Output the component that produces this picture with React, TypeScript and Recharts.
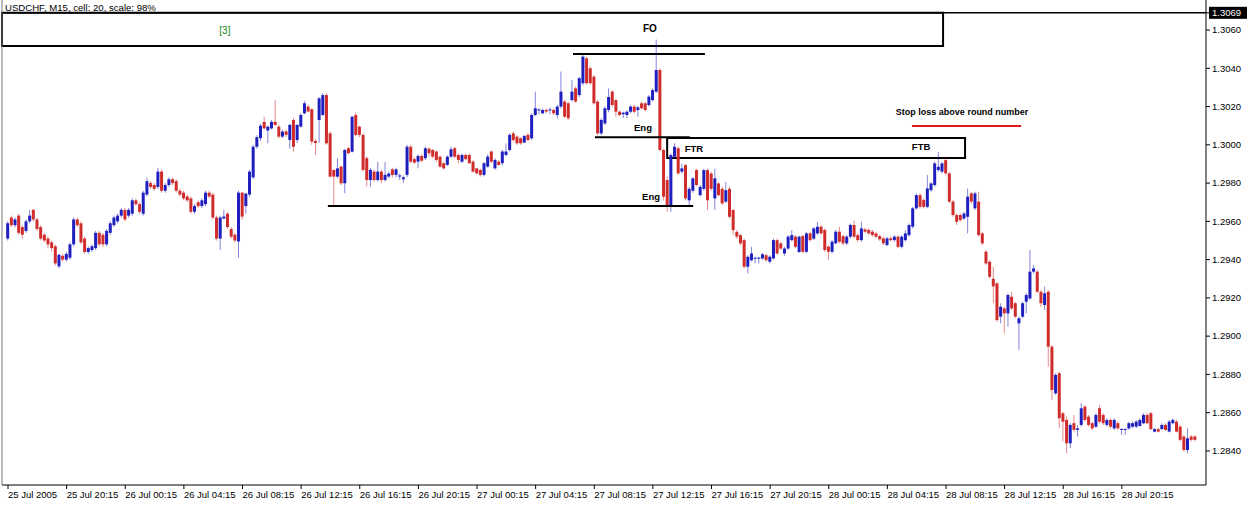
import React from 'react';
import { ComposedChart, Bar, XAxis, YAxis, ReferenceLine, ReferenceArea, ReferenceDot } from 'recharts';

// USDCHF M15 candles: [open, high, low, close]
type Ohlc = [number, number, number, number];

const jul25: Ohlc[] = [
  [1.2951, 1.2960, 1.2950, 1.2959], [1.2962, 1.2963, 1.2957, 1.2958], [1.2958, 1.2962, 1.2957, 1.2961],
  [1.2963, 1.2964, 1.2953, 1.2954], [1.2957, 1.2958, 1.2951, 1.2953], [1.2955, 1.2961, 1.2954, 1.2960],
  [1.2960, 1.2966, 1.2959, 1.2963], [1.2966, 1.29665, 1.2960, 1.2961], [1.2961, 1.2962, 1.2955, 1.2956],
  [1.2957, 1.2958, 1.2950, 1.2951], [1.2953, 1.2954, 1.2949, 1.2950], [1.2951, 1.2952, 1.2946, 1.2948],
  [1.2949, 1.2950, 1.2944, 1.2946], [1.2947, 1.2948, 1.2937, 1.2938], [1.29365, 1.2943, 1.29355, 1.29425],
  [1.2942, 1.2943, 1.2939, 1.2940], [1.2940, 1.2944, 1.2939, 1.2943], [1.2941, 1.2949, 1.2940, 1.2948],
  [1.2948, 1.2962, 1.2947, 1.2961], [1.2961, 1.2962, 1.2957, 1.2958], [1.2959, 1.2960, 1.2948, 1.2949],
  [1.2951, 1.2952, 1.2943, 1.2944], [1.2944, 1.2947, 1.2943, 1.2946], [1.2945, 1.2948, 1.2944, 1.2947],
  [1.2946, 1.2955, 1.2945, 1.2954], [1.2954, 1.2955, 1.2947, 1.2948], [1.2953, 1.2954, 1.29465, 1.2948],
  [1.2948, 1.2956, 1.2947, 1.2955], [1.2954, 1.2960, 1.2953, 1.2959], [1.2958, 1.2963, 1.2957, 1.2962],
  [1.2960, 1.2964, 1.2959, 1.2963],
];

const jul26: Ohlc[] = [
  [1.2963, 1.2967, 1.2962, 1.2966], [1.2966, 1.2967, 1.2960, 1.2961], [1.2963, 1.2967, 1.2962, 1.2966],
  [1.2964, 1.2972, 1.2963, 1.2971], [1.2971, 1.2972, 1.2968, 1.2969], [1.2969, 1.2970, 1.2964, 1.2965],
  [1.2964, 1.2976, 1.2963, 1.2975], [1.2974, 1.2983, 1.2973, 1.2981], [1.2980, 1.2981, 1.2977, 1.2978],
  [1.2979, 1.2980, 1.2976, 1.2977], [1.2978, 1.2988, 1.2977, 1.2986], [1.2986, 1.2987, 1.2975, 1.2976],
  [1.2976, 1.2980, 1.2975, 1.2979], [1.2979, 1.2983, 1.2978, 1.2982], [1.2982, 1.2983, 1.2979, 1.2980],
  [1.2981, 1.2982, 1.2975, 1.2976], [1.2976, 1.2977, 1.2973, 1.2974], [1.2975, 1.2976, 1.2971, 1.2972],
  [1.2973, 1.2974, 1.2970, 1.2971], [1.2972, 1.2973, 1.2964, 1.2965], [1.2965, 1.2969, 1.2964, 1.2968],
  [1.2970, 1.2971, 1.2967, 1.2968], [1.2968, 1.2972, 1.2967, 1.2971], [1.2969, 1.2976, 1.2968, 1.2975],
  [1.2975, 1.2976, 1.2972, 1.2973], [1.2974, 1.2975, 1.2961, 1.2962], [1.2962, 1.2963, 1.2950, 1.2951],
  [1.2951, 1.2963, 1.2945, 1.2962], [1.29615, 1.2966, 1.2961, 1.29625], [1.2964, 1.2965, 1.2956, 1.2957],
  [1.2956, 1.2957, 1.2951, 1.2952], [1.2953, 1.2954, 1.2949, 1.2950], [1.29495, 1.2976, 1.2941, 1.2975],
  [1.2975, 1.29755, 1.2961, 1.29625], [1.2968, 1.2975, 1.2964, 1.29745], [1.2974, 1.2987, 1.2973, 1.2986],
  [1.2983, 1.3000, 1.2982, 1.2999], [1.2999, 1.3005, 1.2998, 1.3004], [1.30035, 1.3011, 1.3002, 1.3010],
  [1.3012, 1.30147, 1.3008, 1.30086], [1.30075, 1.3010, 1.30008, 1.30095], [1.30086, 1.3013, 1.3008, 1.3012],
  [1.3012, 1.30234, 1.3010, 1.30104], [1.30095, 1.30104, 1.30035, 1.30043], [1.30043, 1.3008, 1.30035, 1.30069],
  [1.3007, 1.3008, 1.3004, 1.30052], [1.30025, 1.3011, 1.2998, 1.30104], [1.3013, 1.3014, 1.29964, 1.2999],
  [1.30025, 1.3011, 1.3001, 1.30104], [1.30095, 1.30165, 1.3009, 1.30156], [1.30165, 1.3023, 1.3016, 1.30217],
  [1.3020, 1.3021, 1.3017, 1.30174], [1.30186, 1.3019, 1.3000, 1.30017], [1.3002, 1.3003, 1.29947, 1.3001],
  [1.3013, 1.3025, 1.3001, 1.30243], [1.30156, 1.3027, 1.3015, 1.3026], [1.3026, 1.3027, 1.3000, 1.30008],
  [1.3006, 1.3007, 1.2983, 1.29834], [1.29869, 1.2987, 1.29677, 1.29834], [1.29834, 1.2993, 1.29825, 1.29877],
  [1.29886, 1.2989, 1.2979, 1.29799], [1.29799, 1.2998, 1.29747, 1.29973], [1.29982, 1.2999, 1.2995, 1.29956],
  [1.29964, 1.3015, 1.2996, 1.30147], [1.30156, 1.3017, 1.30045, 1.30052], [1.30095, 1.3010, 1.3004, 1.30052],
  [1.30052, 1.3006, 1.2986, 1.29869], [1.2993, 1.2994, 1.29782, 1.29816], [1.29816, 1.2988, 1.29782, 1.29869],
  [1.2986, 1.2987, 1.29808, 1.29816], [1.29816, 1.29912, 1.29808, 1.2986], [1.2986, 1.2987, 1.2980, 1.29816],
  [1.29816, 1.2991, 1.29808, 1.29843], [1.29834, 1.2986, 1.29825, 1.2985], [1.29872, 1.2988, 1.2983, 1.29843],
  [1.29843, 1.2988, 1.2983, 1.29872], [1.29834, 1.2985, 1.29816, 1.2984], [1.2982, 1.2984, 1.2980, 1.2983],
  [1.29843, 1.3000, 1.2983, 1.2999], [1.2999, 1.3000, 1.29904, 1.29912], [1.29925, 1.29935, 1.2990, 1.29907],
  [1.29912, 1.2995, 1.29877, 1.29942], [1.29942, 1.2995, 1.2991, 1.29917], [1.2993, 1.2999, 1.2992, 1.29982],
  [1.2998, 1.29985, 1.2994, 1.29956], [1.29973, 1.2998, 1.2993, 1.29938], [1.29965, 1.2997, 1.2991, 1.29921],
  [1.29938, 1.29945, 1.2988, 1.29886], [1.29904, 1.2991, 1.2987, 1.29877], [1.29895, 1.29945, 1.2989, 1.29938],
  [1.29938, 1.2999, 1.2993, 1.29977], [1.29982, 1.2999, 1.2993, 1.29938], [1.29947, 1.29955, 1.29904, 1.29921],
  [1.29912, 1.29955, 1.29905, 1.29947], [1.29947, 1.29955, 1.2992, 1.29925], [1.29947, 1.29955, 1.2990, 1.29904],
];

const jul27: Ohlc[] = [
  [1.29912, 1.2992, 1.29855, 1.2986], [1.29877, 1.2988, 1.29845, 1.29851], [1.29869, 1.29875, 1.29834, 1.29843],
  [1.29843, 1.2991, 1.29835, 1.29904], [1.29886, 1.2995, 1.2988, 1.29938], [1.29965, 1.2997, 1.29905, 1.29912],
  [1.29877, 1.2993, 1.2987, 1.29921], [1.29912, 1.2992, 1.2989, 1.29895], [1.29904, 1.29973, 1.29895, 1.29965],
  [1.29947, 1.30008, 1.2994, 1.29965], [1.29973, 1.3006, 1.29965, 1.30052], [1.3006, 1.3007, 1.30017, 1.30025],
  [1.30043, 1.3005, 1.3000, 1.30008], [1.30034, 1.3004, 1.3000, 1.30008], [1.30012, 1.30052, 1.30008, 1.30046],
  [1.30052, 1.3006, 1.3002, 1.30025], [1.30034, 1.30165, 1.30025, 1.30156], [1.30156, 1.30278, 1.3015, 1.30191],
  [1.30182, 1.3019, 1.3016, 1.30185], [1.30165, 1.3019, 1.3016, 1.30182], [1.30182, 1.3019, 1.30165, 1.30174],
  [1.3018, 1.30195, 1.3016, 1.30185], [1.30182, 1.3019, 1.30156, 1.30165], [1.30156, 1.30208, 1.30139, 1.3020],
  [1.3020, 1.30383, 1.3019, 1.30278], [1.30226, 1.30234, 1.3014, 1.30147], [1.30217, 1.30225, 1.3013, 1.30139],
  [1.30234, 1.30339, 1.30226, 1.30278], [1.30295, 1.30304, 1.3022, 1.30226], [1.3026, 1.30356, 1.3025, 1.30348],
  [1.30322, 1.3047, 1.3031, 1.30461], [1.30452, 1.3046, 1.30315, 1.30322], [1.3040, 1.3041, 1.30315, 1.30322],
  [1.30356, 1.30365, 1.3021, 1.30217], [1.30226, 1.30234, 1.3005, 1.3006], [1.3006, 1.3014, 1.3005, 1.3013],
  [1.30112, 1.3020, 1.30104, 1.30191], [1.30182, 1.30295, 1.3017, 1.3025], [1.30278, 1.30286, 1.3020, 1.30208],
  [1.30234, 1.3024, 1.30147, 1.30173], [1.30173, 1.3018, 1.3015, 1.30156], [1.3016, 1.30173, 1.3014, 1.30168],
  [1.30156, 1.3018, 1.3014, 1.30173], [1.30173, 1.30208, 1.30165, 1.3020], [1.3020, 1.30208, 1.30165, 1.30173],
  [1.30182, 1.30204, 1.30147, 1.30196], [1.30217, 1.30225, 1.30185, 1.30191], [1.30217, 1.30225, 1.30175, 1.30182],
  [1.30208, 1.3026, 1.3020, 1.30252], [1.30234, 1.30295, 1.30226, 1.30286], [1.30278, 1.3055, 1.3027, 1.30391],
  [1.30391, 1.3040, 1.29965, 1.29973], [1.29973, 1.2998, 1.2971, 1.29729], [1.29816, 1.29834, 1.2965, 1.29677],
  [1.29677, 1.29955, 1.2965, 1.29947], [1.29938, 1.30008, 1.2993, 1.2999], [1.29982, 1.2999, 1.29843, 1.29851],
  [1.2986, 1.2990, 1.2985, 1.29877], [1.29894, 1.2990, 1.2971, 1.2972], [1.2971, 1.2978, 1.29677, 1.2977],
  [1.2976, 1.2983, 1.2975, 1.29825], [1.29868, 1.29875, 1.29785, 1.2979], [1.29737, 1.2979, 1.2973, 1.2978],
  [1.2977, 1.29875, 1.2976, 1.29868], [1.29868, 1.29875, 1.2966, 1.2971], [1.2985, 1.2986, 1.2976, 1.2977],
  [1.2972, 1.29875, 1.2966, 1.29825], [1.29798, 1.29805, 1.2973, 1.29737], [1.2977, 1.2978, 1.29685, 1.29694],
  [1.29703, 1.29806, 1.29695, 1.29763], [1.2977, 1.2978, 1.29615, 1.29624], [1.29659, 1.29665, 1.2953, 1.29554],
  [1.29545, 1.29554, 1.2951, 1.2952], [1.29528, 1.29535, 1.29475, 1.29485], [1.29502, 1.2951, 1.29355, 1.29363],
  [1.29363, 1.29423, 1.29328, 1.29415], [1.29397, 1.29467, 1.2939, 1.29432], [1.29406, 1.29415, 1.2938, 1.2941],
  [1.29406, 1.29415, 1.2938, 1.2941], [1.29406, 1.29435, 1.2940, 1.29428], [1.29423, 1.2943, 1.2939, 1.29397],
  [1.29389, 1.29423, 1.2938, 1.29415], [1.29406, 1.2951, 1.2940, 1.29502], [1.29502, 1.2951, 1.29425, 1.29432],
  [1.29485, 1.29493, 1.2945, 1.29458], [1.29432, 1.29467, 1.2942, 1.29458], [1.29458, 1.29528, 1.2945, 1.2952],
  [1.29502, 1.29554, 1.29495, 1.29528], [1.2952, 1.29528, 1.2946, 1.29467], [1.2944, 1.29525, 1.29435, 1.2952],
  [1.29523, 1.2953, 1.29435, 1.29441], [1.29441, 1.29545, 1.29435, 1.29537], [1.29537, 1.29545, 1.29495, 1.29502],
  [1.2951, 1.2957, 1.29502, 1.29563], [1.29537, 1.29598, 1.2953, 1.29572], [1.29572, 1.2958, 1.2953, 1.29537],
];

const jul28: Ohlc[] = [
  [1.29555, 1.29563, 1.29441, 1.2945], [1.29468, 1.29475, 1.29398, 1.29441], [1.29441, 1.29502, 1.29432, 1.29494],
  [1.29485, 1.29555, 1.2948, 1.29546], [1.29546, 1.29572, 1.29485, 1.29494], [1.29523, 1.2953, 1.29476, 1.29485],
  [1.29485, 1.29528, 1.29476, 1.2952], [1.2952, 1.29589, 1.2951, 1.29581], [1.29581, 1.29604, 1.29512, 1.2952],
  [1.29528, 1.29537, 1.29494, 1.29502], [1.29502, 1.29598, 1.29494, 1.29563], [1.29558, 1.29565, 1.2954, 1.29546],
  [1.29555, 1.29563, 1.2953, 1.29537], [1.29546, 1.29555, 1.2952, 1.29528], [1.29537, 1.29546, 1.29512, 1.2952],
  [1.29523, 1.2953, 1.29498, 1.29506], [1.29511, 1.2952, 1.29476, 1.29485], [1.29476, 1.2952, 1.2947, 1.29511],
  [1.29511, 1.2952, 1.29494, 1.29502], [1.29502, 1.29528, 1.29494, 1.2952], [1.2952, 1.29528, 1.2946, 1.29467],
  [1.29467, 1.29528, 1.29458, 1.2952], [1.29502, 1.29554, 1.29494, 1.29537], [1.29528, 1.29589, 1.2952, 1.29581],
  [1.29572, 1.29676, 1.29563, 1.29668], [1.29668, 1.29746, 1.2966, 1.29737], [1.29737, 1.29746, 1.29668, 1.29676],
  [1.29712, 1.2972, 1.29668, 1.29676], [1.29676, 1.29842, 1.29668, 1.29772], [1.29763, 1.29806, 1.29755, 1.29798],
  [1.2979, 1.29911, 1.29781, 1.29903], [1.29868, 1.29964, 1.2986, 1.29885], [1.2986, 1.29911, 1.29851, 1.29903],
  [1.2992, 1.2993, 1.29842, 1.29851], [1.29851, 1.2986, 1.29695, 1.29703], [1.29703, 1.29712, 1.29624, 1.29633],
  [1.29633, 1.29641, 1.29581, 1.29598], [1.29633, 1.29641, 1.29598, 1.29607], [1.29615, 1.2965, 1.29607, 1.29641],
  [1.29624, 1.29772, 1.29537, 1.29729], [1.29746, 1.29755, 1.29694, 1.29703], [1.29668, 1.29755, 1.2966, 1.29746],
  [1.29703, 1.29755, 1.2952, 1.29528], [1.29537, 1.29546, 1.29476, 1.29485], [1.29441, 1.2945, 1.29372, 1.2938],
  [1.29389, 1.29397, 1.29302, 1.2931], [1.2930, 1.29363, 1.29172, 1.2926], [1.29276, 1.29284, 1.29075, 1.29084],
  [1.29102, 1.29172, 1.29067, 1.29154], [1.29145, 1.29154, 1.29015, 1.29119], [1.29119, 1.29224, 1.2905, 1.29215],
  [1.29206, 1.29232, 1.29137, 1.29145], [1.29172, 1.2918, 1.29093, 1.29102], [1.29067, 1.29102, 1.28928, 1.29093],
  [1.29102, 1.2918, 1.29093, 1.29172], [1.2918, 1.29224, 1.29119, 1.29215], [1.29197, 1.2945, 1.29189, 1.29337],
  [1.29337, 1.29372, 1.29328, 1.29354], [1.29337, 1.29346, 1.29224, 1.29232], [1.29232, 1.29241, 1.29154, 1.29172],
  [1.29163, 1.29259, 1.29137, 1.29224], [1.29232, 1.29241, 1.2884, 1.28945], [1.28945, 1.28954, 1.28666, 1.28719],
  [1.28701, 1.28806, 1.28693, 1.28797], [1.28806, 1.28814, 1.28518, 1.28571], [1.28597, 1.28605, 1.2845, 1.28553],
  [1.28562, 1.2858, 1.28388, 1.2844], [1.2844, 1.28545, 1.28414, 1.28536], [1.28545, 1.28588, 1.28501, 1.2851],
  [1.2851, 1.28536, 1.28475, 1.28518], [1.28536, 1.2865, 1.28527, 1.28623], [1.28631, 1.2864, 1.28553, 1.28562],
  [1.28579, 1.28588, 1.28527, 1.28536], [1.28545, 1.28553, 1.2851, 1.28518], [1.28527, 1.28597, 1.2852, 1.28588],
  [1.28623, 1.2864, 1.28545, 1.28553], [1.28588, 1.28597, 1.28536, 1.28545], [1.28536, 1.28571, 1.28527, 1.28562],
  [1.28562, 1.28571, 1.28518, 1.28527], [1.28518, 1.28571, 1.2851, 1.28562], [1.28545, 1.28553, 1.2851, 1.28518],
  [1.28512, 1.28518, 1.28484, 1.28515], [1.28512, 1.28518, 1.28484, 1.28515], [1.28518, 1.28553, 1.2851, 1.28545],
  [1.28527, 1.28553, 1.2852, 1.28545], [1.28527, 1.28562, 1.2852, 1.28553], [1.28531, 1.28571, 1.28527, 1.28562],
  [1.28545, 1.28597, 1.2854, 1.28588], [1.28588, 1.28597, 1.2854, 1.28545], [1.28597, 1.28605, 1.2851, 1.28514],
  [1.28501, 1.2852, 1.28497, 1.28514], [1.28514, 1.2852, 1.28497, 1.28501], [1.28514, 1.28545, 1.2851, 1.28536],
  [1.28536, 1.28545, 1.28505, 1.2851], [1.28501, 1.28562, 1.28497, 1.28553], [1.28545, 1.28571, 1.2854, 1.28562],
];

const jul29: Ohlc[] = [
  [1.28553, 1.28562, 1.28497, 1.28501], [1.28527, 1.28536, 1.2845, 1.28458], [1.28475, 1.28484, 1.28397, 1.28405],
  [1.28405, 1.28518, 1.28388, 1.28466], [1.28475, 1.28484, 1.2845, 1.28458], [1.28475, 1.28484, 1.2845, 1.28458],
];

const timeLabels = [
  '25 Jul 2005', '25 Jul 20:15', '26 Jul 00:15', '26 Jul 04:15', '26 Jul 08:15', '26 Jul 12:15', '26 Jul 16:15',
  '26 Jul 20:15', '27 Jul 00:15', '27 Jul 04:15', '27 Jul 08:15', '27 Jul 12:15', '27 Jul 16:15', '27 Jul 20:15',
  '28 Jul 00:15', '28 Jul 04:15', '28 Jul 08:15', '28 Jul 12:15', '28 Jul 16:15', '28 Jul 20:15',
];
const timeLabelBars = [0, 16, 32, 48, 64, 80, 96, 112, 128, 144, 160, 176, 192, 208, 224, 240, 256, 272, 288, 304];

const priceTicks = [1.284, 1.286, 1.288, 1.290, 1.292, 1.294, 1.296, 1.298, 1.300, 1.302, 1.304, 1.306];
const lastPrice = 1.3069;

// drawn levels: bar index range + price
const foLevel = { from: 154.2, to: 190.2, price: 1.30475 };
const upperEngLevel = { from: 160.2, to: 186.1, price: 1.3004 };
const lowerEngLevel = { from: 87.3, to: 187.0, price: 1.2968 };
const stopLossMark = { from: 246.7, to: 276.5, price: 1.30098 };
const waveBox = { from: -1.64, to: 255.2, low: 1.30516, high: lastPrice };
const ftrBox = { from: 179.9, to: 261.2, low: 1.29931, high: 1.30036 };

const candles = [...jul25, ...jul26, ...jul27, ...jul28, ...jul29];
const data = candles.map(([o, h, l, c], i) => ({ i, o, h, l, c, hl: [l, h] }));

const X_DOMAIN: [number, number] = [-1.64, 326.96];
const Y_DOMAIN: [number, number] = [1.28222, 1.30757];

const BULL = '#1f1fbf';
const BEAR = '#d02c2c';
const FONT = '"Liberation Sans", Arial, sans-serif';

const CandleShape = (props: any) => {
  const { x, y, width, height, payload } = props;
  if (x == null || y == null || !payload) return null;
  const { o, h, l, c } = payload;
  const top = Math.min(y, y + height);
  const bottom = Math.max(y, y + height);
  const span = h - l;
  const toPx = (p: number) => (span === 0 ? top : top + ((h - p) / span) * (bottom - top));
  const cx = x + width / 2;
  const up = c >= o;
  const color = up ? BULL : BEAR;
  const bTop = toPx(Math.max(o, c));
  const bBot = toPx(Math.min(o, c));
  return (
    <g>
      <line x1={cx} x2={cx} y1={top} y2={bottom} stroke={color} strokeOpacity={0.55} strokeWidth={1} />
      <rect x={cx - 1.5} y={bTop} width={3} height={Math.max(bBot - bTop, 1)} fill={color} />
    </g>
  );
};

const TimeTick = (props: any) => {
  const { x, y, payload } = props;
  const k = timeLabelBars.indexOf(payload.value);
  return (
    <text x={x} y={y} dy="0.71em" textAnchor="start" fontFamily={FONT} fontSize={9.5} fill="#000">
      {k >= 0 ? timeLabels[k] : ''}
    </text>
  );
};

const PriceTick = (props: any) => {
  const { x, y, payload } = props;
  const v = payload.value as number;
  if (v === lastPrice) {
    return (
      <g>
        <rect x={x - 3} y={y - 6} width={38} height={12} fill="#000" />
        <text x={x} y={y} dy="0.35em" fontFamily={FONT} fontSize={9.5} fill="#fff">{v.toFixed(4)}</text>
      </g>
    );
  }
  return (
    <text x={x} y={y} dy="0.35em" fontFamily={FONT} fontSize={9.5} fill="#000">{v.toFixed(4)}</text>
  );
};

const textMark = (text: string, opts: { size?: number; bold?: boolean; color?: string; anchor?: 'start' | 'middle' } = {}) =>
  (p: any) => (
    <text
      x={p.cx}
      y={p.cy}
      dy="0.35em"
      textAnchor={opts.anchor ?? 'middle'}
      fontFamily={FONT}
      fontSize={opts.size ?? 10}
      fontWeight={opts.bold ? 'bold' : 'normal'}
      fill={opts.color ?? '#000'}
    >
      {text}
    </text>
  );

export default function App() {
  return (
    <div style={{ position: 'absolute', left: 0, top: 0, width: 1249, height: 513, background: '#fff' }}>
      <ComposedChart width={1249} height={513} data={data} margin={{ top: 0, right: 0, bottom: 0, left: 0 }}>
        <XAxis
          dataKey="i"
          type="number"
          domain={X_DOMAIN}
          allowDataOverflow
          ticks={timeLabelBars}
          interval={0}
          tick={<TimeTick />}
          tickSize={4}
          tickLine={{ stroke: '#000' }}
          axisLine={{ stroke: '#000' }}
          height={28}
        />
        <YAxis yAxisId="frame" orientation="left" width={2} domain={[0, 1]} tick={false} tickLine={false} axisLine={{ stroke: '#777' }} />
        <YAxis
          yAxisId="price"
          orientation="right"
          type="number"
          domain={Y_DOMAIN}
          allowDataOverflow
          ticks={[...priceTicks, lastPrice]}
          interval={0}
          tick={<PriceTick />}
          tickSize={4}
          tickLine={{ stroke: '#000' }}
          axisLine={{ stroke: '#000' }}
          width={43}
        />
        <Bar yAxisId="price" dataKey="hl" barSize={3} shape={<CandleShape />} isAnimationActive={false} />

        <ReferenceLine yAxisId="price" y={lastPrice} stroke="#000" strokeWidth={1.5} />
        <ReferenceArea yAxisId="price" x1={waveBox.from} x2={waveBox.to} y1={waveBox.low} y2={waveBox.high} fill="none" stroke="#000" strokeWidth={2} />
        <ReferenceArea yAxisId="price" x1={ftrBox.from} x2={ftrBox.to} y1={ftrBox.low} y2={ftrBox.high} fill="none" stroke="#000" strokeWidth={2} />
        {[foLevel, upperEngLevel, lowerEngLevel].map((lv, k) => (
          <ReferenceLine
            key={k}
            yAxisId="price"
            segment={[{ x: lv.from, y: lv.price }, { x: lv.to, y: lv.price }]}
            stroke="#000"
            strokeWidth={2}
          />
        ))}
        <ReferenceLine
          yAxisId="price"
          segment={[{ x: stopLossMark.from, y: stopLossMark.price }, { x: stopLossMark.to, y: stopLossMark.price }]}
          stroke="#e01818"
          strokeWidth={2}
        />

        <ReferenceDot yAxisId="price" x={-0.82} y={1.30718} r={0} shape={textMark('USDCHF, M15, cell: 20, scale: 98%', { size: 9.6, anchor: 'start' })} />
        <ReferenceDot yAxisId="price" x={59.2} y={1.3060} r={0} shape={textMark('[3]', { size: 10, color: '#118811' })} />
        <ReferenceDot yAxisId="price" x={175.2} y={1.3061} r={0} shape={textMark('FO', { bold: true })} />
        <ReferenceDot yAxisId="price" x={173.3} y={1.30088} r={0} shape={textMark('Eng', { bold: true, size: 9.5 })} />
        <ReferenceDot yAxisId="price" x={175.5} y={1.29727} r={0} shape={textMark('Eng', { bold: true, size: 9.5 })} />
        <ReferenceDot yAxisId="price" x={187.2} y={1.29978} r={0} shape={textMark('FTR', { bold: true, size: 9.5 })} />
        <ReferenceDot yAxisId="price" x={249.2} y={1.29989} r={0} shape={textMark('FTB', { bold: true, size: 9.5 })} />
        <ReferenceDot yAxisId="price" x={260.4} y={1.30171} r={0} shape={textMark('Stop loss above round number', { bold: true, size: 9 })} />
      </ComposedChart>
    </div>
  );
}
